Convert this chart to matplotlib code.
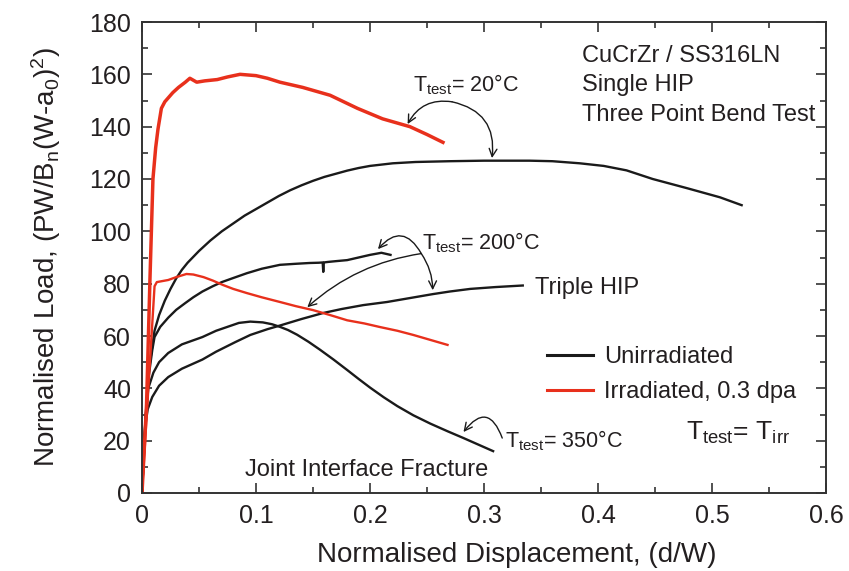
import matplotlib
matplotlib.use("Agg")
import matplotlib.pyplot as plt
from matplotlib.ticker import MultipleLocator

plt.rcParams['font.family'] = ['Liberation Sans', 'DejaVu Sans']
plt.rcParams['mathtext.fontset'] = 'custom'
plt.rcParams['mathtext.rm'] = 'Liberation Sans'
plt.rcParams['mathtext.it'] = 'Liberation Sans:italic'
plt.rcParams['mathtext.bf'] = 'Liberation Sans:bold'

# ---- data ----
irr20_x = [0, 0.004, 0.007, 0.0096, 0.012, 0.014, 0.017, 0.020, 0.023, 0.027, 0.032, 0.038,
           0.042, 0.048, 0.055, 0.066, 0.075, 0.086, 0.100, 0.110, 0.121, 0.141, 0.165,
           0.189, 0.211, 0.235, 0.250, 0.264]
irr20_y = [0, 34, 82, 120, 132, 139, 147, 149.5, 151, 153, 155, 157,
           158.5, 157, 157.5, 158, 159, 160, 159.5, 158.5, 157, 155, 152,
           147, 143, 140, 137, 134]

irr200_x = [0, 0.011, 0.013, 0.023, 0.030, 0.036, 0.039, 0.045, 0.054, 0.062, 0.071, 0.080,
            0.092, 0.105, 0.121, 0.135, 0.150, 0.165, 0.180, 0.195, 0.209, 0.224, 0.238,
            0.253, 0.268]
irr200_y = [0, 79, 80.6, 81.4, 82.5, 83.3, 83.7, 83.5, 82.5, 81.2, 79.5, 78,
            76.4, 74.8, 73, 71.4, 69.9, 68, 66, 64.8, 63.4, 62, 60.4,
            58.5, 56.6]

un20_x = [0, 0.003, 0.006, 0.011, 0.015, 0.020, 0.025, 0.030, 0.035, 0.040, 0.050, 0.060,
          0.070, 0.080, 0.090, 0.100, 0.110, 0.120, 0.130, 0.140, 0.150, 0.160, 0.170,
          0.180, 0.190, 0.200, 0.220, 0.240, 0.270, 0.300, 0.340, 0.360, 0.384, 0.405,
          0.425, 0.448, 0.478, 0.507, 0.526]
un20_y = [0, 28, 47, 62, 68, 73.5, 78, 82, 85.3, 88, 92.5, 96.5,
          100, 103, 106, 108.5, 111, 113.5, 115.7, 117.6, 119.3, 120.8, 122,
          123.2, 124.2, 125, 126, 126.5, 126.8, 127, 127, 126.8, 126, 125,
          123.3, 120, 116.5, 113, 110]

un200s_x = [0, 0.003, 0.006, 0.009, 0.011, 0.016, 0.023, 0.030, 0.038, 0.045, 0.053, 0.062,
            0.070, 0.079, 0.092, 0.105, 0.121, 0.135, 0.147, 0.155, 0.1585, 0.159, 0.1595,
            0.163, 0.170, 0.180, 0.190, 0.200, 0.210, 0.218]
un200s_y = [0, 27, 45, 54.6, 59.6, 63.5, 67, 70, 72.6, 74.8, 77, 79,
            80.6, 82, 84, 85.7, 87.2, 87.6, 87.9, 88, 88.1, 84.5, 88.1,
            88.3, 88.6, 89, 90, 91, 91.8, 91]

un200t_x = [0, 0.003, 0.005, 0.009, 0.015, 0.023, 0.035, 0.053, 0.065, 0.082, 0.095, 0.110,
            0.121, 0.140, 0.159, 0.175, 0.194, 0.215, 0.235, 0.255, 0.270, 0.288, 0.310, 0.334]
un200t_y = [0, 26, 32, 36.7, 41, 44.3, 47.5, 51, 54, 57.7, 60.4, 62.6,
            64, 66.5, 68.8, 70.3, 71.8, 73, 74.5, 76, 77, 78, 78.7, 79.3]

un350_x = [0, 0.003, 0.0055, 0.010, 0.015, 0.023, 0.035, 0.053, 0.065, 0.077, 0.085, 0.095,
           0.106, 0.114, 0.121, 0.128, 0.136, 0.146, 0.156, 0.168, 0.180, 0.190, 0.200,
           0.212, 0.224, 0.238, 0.253, 0.268, 0.282, 0.295, 0.308]
un350_y = [0, 28, 40, 46, 50, 53.5, 56.8, 59.6, 62, 63.8, 65, 65.5,
           65.2, 64.5, 63.5, 62.3, 60.5, 57.8, 54.8, 51, 47, 43.6, 40.3,
           36.6, 33.2, 29.7, 26.5, 23.6, 21, 18.5, 16]

x_ticks = [0, 0.1, 0.2, 0.3, 0.4, 0.5, 0.6]
x_ticklabels = ['0', '0.1', '0.2', '0.3', '0.4', '0.5', '0.6']
y_ticks = [0, 20, 40, 60, 80, 100, 120, 140, 160, 180]

BLACK = '#1a1a1a'
RED = '#e8301c'
TXT = '#231f20'

fig = plt.figure(figsize=(8.49, 5.71), dpi=100)
ax = fig.add_axes([142/849, 78/571, 684/849, 471/571])

l_un, = ax.plot(un20_x, un20_y, color=BLACK, lw=1.7, label='Unirradiated')
ax.plot(un200s_x, un200s_y, color=BLACK, lw=1.7)
ax.plot(un200t_x, un200t_y, color=BLACK, lw=1.7)
ax.plot(un350_x, un350_y, color=BLACK, lw=1.7)
ax.plot(irr200_x, irr200_y, color=RED, lw=1.7)
l_irr, = ax.plot(irr20_x, irr20_y, color=RED, lw=2.5, label='Irradiated, 0.3 dpa')

ax.set_xlim(0, 0.6)
ax.set_ylim(0, 180)
ax.set_xticks(x_ticks)
ax.set_xticklabels(x_ticklabels)
ax.set_yticks(y_ticks)
ax.xaxis.set_minor_locator(MultipleLocator(0.05))
ax.yaxis.set_minor_locator(MultipleLocator(10))
ax.tick_params(which='both', direction='in', top=True, right=True,
               labelsize=18, labelcolor=TXT, color='#333333', width=1.2)
ax.tick_params(which='major', length=7, pad=8)
ax.tick_params(which='minor', length=4)
for s in ax.spines.values():
    s.set_linewidth(1.4)
    s.set_color('#333333')

ax.set_xlabel('Normalised Displacement, (d/W)', fontsize=20, color=TXT)
ax.xaxis.set_label_coords(0.548, -0.103)
ax.set_ylabel(r'Normalised Load, (PW/B$_{\mathrm{n}}$(W-a$_{\mathrm{0}}$)$^{\mathrm{2}}$)',
              fontsize=20, color=TXT)
ax.yaxis.set_label_coords(-0.115, 0.5)

leg = ax.legend(handles=[l_un, l_irr], loc='upper left', bbox_to_anchor=(0.592, 0.312),
                frameon=False, fontsize=17, handlelength=1.95, handletextpad=0.47,
                labelspacing=0.55, borderpad=0, borderaxespad=0)
for t in leg.get_texts():
    t.set_color(TXT)
for h in leg.get_lines():
    h.set_linewidth(2.2)

# ---- annotations ----
tk = dict(fontsize=17, color=TXT, va='center', ha='left')
ax.text(0.386, 167, 'CuCrZr / SS316LN', **tk)
ax.text(0.386, 156, 'Single HIP', **tk)
ax.text(0.386, 144.5, 'Three Point Bend Test', **tk)
ax.text(0.345, 78.5, 'Triple HIP', **tk)
ax.text(0.090, 8.6, 'Joint Interface Fracture', **tk)
ax.text(0.477, 23, r'T$_{\mathrm{test}}$= T$_{\mathrm{irr}}$', fontsize=19, color=TXT,
        va='center', ha='left')
tt = dict(fontsize=15.5, color=TXT, va='center', ha='left')
ax.text(0.238, 156, r'T$_{\mathrm{test}}$= 20°C', **tt)
ax.text(0.246, 95.5, r'T$_{\mathrm{test}}$= 200°C', **tt)
ax.text(0.318, 20, r'T$_{\mathrm{test}}$= 350°C', **tt)

ap = dict(arrowstyle='->', color=BLACK, lw=1.0, mutation_scale=14, shrinkA=0, shrinkB=0)
def arr(start, end, rad):
    ax.annotate('', xy=end, xytext=start,
                arrowprops=dict(connectionstyle=f'arc3,rad={rad}', **ap))

arr((0.272, 149.5), (0.233, 141), 0.35)
arr((0.272, 149.5), (0.307, 128), -0.45)
arr((0.245, 91.5), (0.207, 93.2), 0.7)
arr((0.245, 91.5), (0.145, 71), 0.15)
arr((0.245, 91.5), (0.255, 77.5), -0.15)
arr((0.316, 21), (0.282, 23.3), 0.9)

fig.savefig('out.png', dpi=100)
